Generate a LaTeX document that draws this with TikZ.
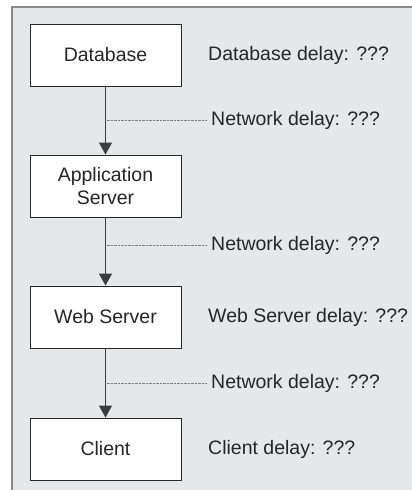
\documentclass[tikz,border=0pt]{standalone}
\usepackage{fontspec}
\setmainfont{Liberation Sans}
\usetikzlibrary{arrows.meta}
\definecolor{panel}{HTML}{E6E7E8}
\definecolor{framegray}{HTML}{8A8A8A}
\definecolor{ink}{HTML}{262626}
\begin{document}
\begin{tikzpicture}[x=1pt,y=-1pt,
  tier/.style={draw=ink, line width=0.9pt, fill=white, minimum width=151pt, minimum height=62pt,
    inner sep=0pt, align=center, font=\fontsize{19.5}{23}\selectfont, text=ink},
  lbl/.style={anchor=west, inner sep=0pt, font=\fontsize{19.5}{23}\selectfont, text=ink},
  flow/.style={draw=ink!90, line width=1.1pt, -{Triangle[width=13pt,length=12pt]}},
  leader/.style={draw=gray, line width=0.7pt, dash pattern=on 0.7pt off 0.7pt}]
\useasboundingbox (0,0) rectangle (412,490);
\fill[panel] (12,7) rectangle (430,510);
\draw[framegray, line width=2pt] (12,510) -- (12,7) -- (430,7);
\node[tier] (db) at (105.5,55) {Database};
\node[tier] (app) at (105.5,186) {Application\\Server};
\node[tier] (web) at (105.5,317) {Web Server};
\node[tier] (cli) at (105.5,449) {Client};
\draw[flow] (db) -- (app);
\draw[flow] (app) -- (web);
\draw[flow] (web) -- (cli);
\node[lbl] (dbd) at (208,55) {Database delay: ???};
\node[lbl] (webd) at (208,317) {Web Server delay: ???};
\node[lbl] (clid) at (208,449) {Client delay: ???};
\node[lbl] (n1) at (211,120.5) {Network delay: ???};
\node[lbl] (n2) at (211,245) {Network delay: ???};
\node[lbl] (n3) at (211,383) {Network delay: ???};
\coordinate (c1) at (106.5,120.5);
\coordinate (c2) at (106.5,245);
\coordinate (c3) at (106.5,383);
\draw[leader] (c1) -- ([xshift=-5pt]n1.west);
\draw[leader] (c2) -- ([xshift=-5pt]n2.west);
\draw[leader] (c3) -- ([xshift=-5pt]n3.west);
\end{tikzpicture}
\end{document}
